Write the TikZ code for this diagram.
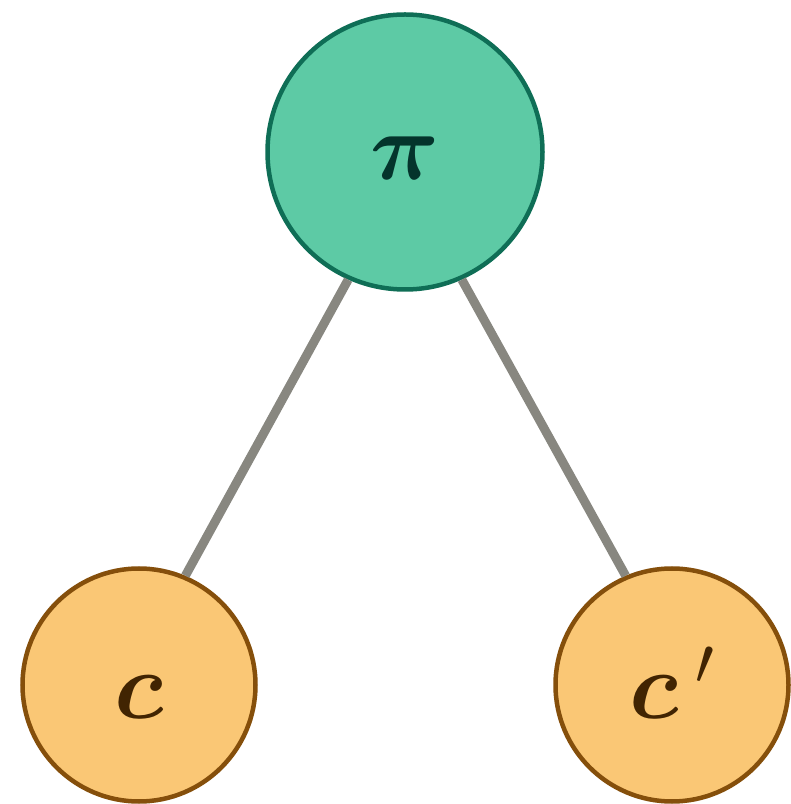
\RequirePackage{fix-cm}
\documentclass[tikz,border=0pt]{standalone}
\usepackage{amsmath,bm}
\definecolor{gfill}{HTML}{5DCAA5}
\definecolor{gdraw}{HTML}{0F6E56}
\definecolor{gtext}{HTML}{04342C}
\definecolor{ofill}{HTML}{FAC775}
\definecolor{odraw}{HTML}{854F0B}
\definecolor{otext}{HTML}{412402}
\definecolor{edge}{HTML}{888780}
\begin{document}
\begin{tikzpicture}[x=1pt,y=1pt,
  gnode/.style={circle,fill=gfill,draw=gdraw,line width=4.5pt,minimum size=275pt,inner sep=0pt,text=gtext,font=\fontsize{96}{110}\selectfont,text height=62pt,text depth=6pt},
  onode/.style={circle,fill=ofill,draw=odraw,line width=4.5pt,minimum size=233pt,inner sep=0pt,text=otext,font=\fontsize{96}{110}\selectfont,text height=78pt,text depth=10pt},
  link/.style={draw=edge,line width=9pt}]
\useasboundingbox (0,0) rectangle (791,804);
\node[gnode] (pi) at (405,652) {$\boldsymbol{\pi}$};
\node[onode] (c) at (139,119) {$\boldsymbol{c}$};
\node[onode] (cp) at (672,119) {$\boldsymbol{c}\,'$};
\draw[link] (pi.246) -- (c.67);
\draw[link] (pi.294.5) -- (cp.113);
\end{tikzpicture}
\end{document}
